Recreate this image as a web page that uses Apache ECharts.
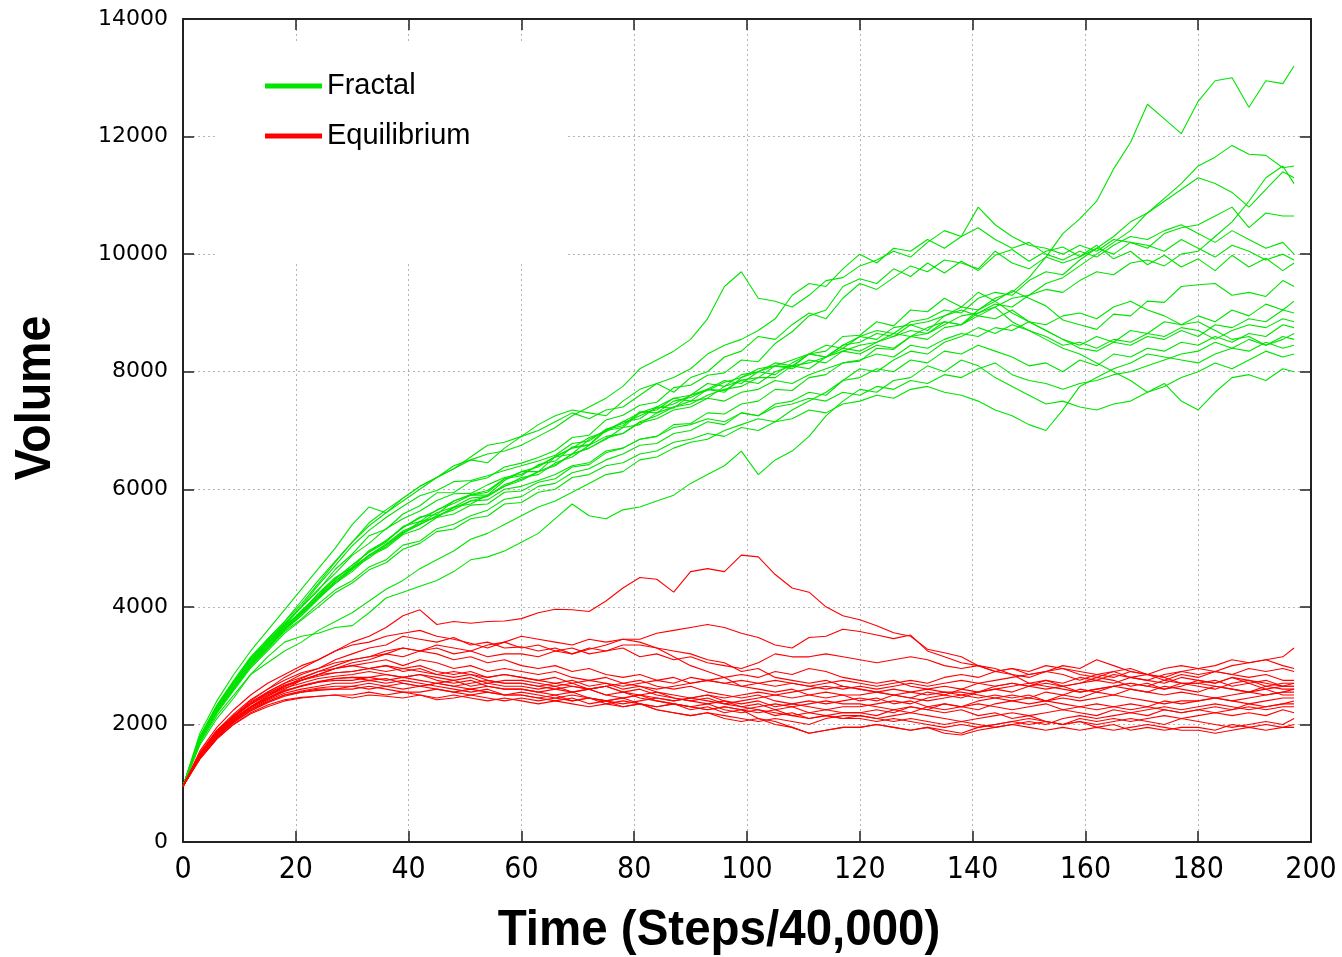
<!DOCTYPE html>
<html><head><meta charset="utf-8">
<script src="https://cdn.jsdelivr.net/npm/echarts@6.0.0/dist/echarts.min.js"></script>
<style>html,body{margin:0;padding:0;background:#fff}#chart{width:1342px;height:957px}</style>
</head><body><div id="chart"></div>
<script>
// Time steps (Steps/40,000) at which each run is sampled
const steps = [0,3,6,9,12,15,18,21,24,27,30,33,36,39,42,45,48,51,54,57,60,63,66,69,72,75,78,81,84,87,90,93,96,99,102,105,108,111,114,117,120,123,126,129,132,135,138,141,144,147,150,153,156,159,162,165,168,171,174,177,180,183,186,189,192,195,197];

// Fractal runs (green)
const fractal01 = [950,1780,2300,2700,3120,3400,3700,4005,4300,4570,4875,5080,5330,5500,5630,5810,5925,5930,6075,6200,6255,6400,6550,6600,6850,7000,7050,7300,7400,7380,7600,7700,7650,7900,8000,7950,8150,8300,8250,8450,8600,8550,8750,8800,8700,8950,9100,9050,9250,9350,9600,9950,10350,10600,10900,11450,11900,12550,12300,12050,12600,12950,13000,12500,12950,12900,13200];
const fractal02 = [950,1760,2280,2680,3080,3380,3680,3900,4230,4500,4670,4960,5120,5350,5530,5570,5800,5900,5900,6150,6300,6300,6550,6700,6750,7000,7150,7200,7400,7550,7500,7700,7850,7800,8000,8150,8100,8300,8450,8400,8600,8700,8650,8850,8900,9050,9000,9250,9350,9300,9550,9700,9650,9900,10100,10300,10550,10700,10950,11200,11500,11650,11850,11700,11680,11470,11500];
const fractal03 = [950,1740,2250,2640,3020,3330,3620,3880,4170,4400,4650,4830,5050,5270,5400,5540,5680,5800,5880,6050,6150,6300,6400,6600,6700,6850,7050,7100,7300,7400,7450,7600,7700,7750,7900,7900,8100,8150,8250,8350,8450,8500,8600,8700,8650,8800,8950,9000,9100,9250,9300,9500,9600,9800,10000,10200,10400,10700,10900,11100,11300,11200,11050,10800,11100,11400,11300];
const fractal04 = [950,1720,2220,2620,3000,3300,3600,3850,4150,4400,4630,4880,5020,5250,5450,5520,5700,5750,5900,6050,6200,6250,6450,6550,6750,6900,6950,7150,7250,7400,7500,7550,7750,7850,7800,8000,8100,8050,8250,8400,8350,8500,8650,8600,8750,8850,8800,9000,9150,9100,9300,9400,9350,9550,9700,9650,9850,9900,9800,10000,10050,10300,10550,10900,11300,11500,11200];
const fractal05 = [950,1800,2330,2750,3150,3450,3750,4100,4450,4780,5100,5430,5650,5850,6050,6200,6350,6500,6600,6650,6750,6900,7050,7250,7400,7550,7750,8050,8200,8350,8550,8900,9450,9700,9250,9200,9100,9300,9550,9600,9800,9900,10050,9950,10200,10400,10300,10800,10500,10300,10150,10100,10000,10150,10050,10250,10200,10100,10350,10450,10500,10650,10800,10450,10700,10650,10650];
const fractal06 = [950,1790,2320,2730,3130,3450,3750,4050,4400,4760,5100,5380,5600,5850,6050,6200,6350,6550,6750,6800,6900,7000,7150,7300,7200,7350,7400,7600,7800,7900,8050,8300,8450,8550,8700,8900,9300,9500,9450,9750,10000,9850,10100,10050,10250,10100,10300,10450,10250,10100,10200,10000,9900,10050,9950,10150,10300,10250,10400,10500,10350,10200,10400,10250,10100,10200,10000];
const fractal07 = [950,1770,2290,2720,3080,3420,3680,3995,4280,4640,4895,5210,5320,5580,5720,5940,5945,6130,6195,6380,6445,6540,6660,6880,6920,7180,7260,7430,7480,7730,7770,7940,7980,8200,8170,8480,8680,8950,9050,9450,9580,9500,9750,9620,9850,9680,9880,9720,9980,10080,9880,10050,10120,9960,10150,9920,10050,9820,9980,9780,9920,9720,9980,9780,9930,9720,9850];
const fractal08 = [950,1750,2260,2680,3040,3380,3640,3940,4190,4480,4710,4930,5100,5370,5450,5650,5760,5900,5950,6180,6230,6420,6480,6720,6760,7020,7080,7320,7300,7500,7560,7700,7680,7860,7900,8100,8080,8300,8350,8600,8620,8850,8780,9050,9020,9250,9100,9350,9200,9380,9250,9120,8880,8800,8720,8980,8950,9200,9180,9450,9480,9500,9300,9350,9280,9550,9450];
const fractal09 = [950,1730,2230,2620,3020,3300,3620,3850,4130,4400,4600,4860,5000,5230,5330,5520,5580,5730,5750,5950,5970,6120,6180,6380,6420,6620,6700,6850,6900,7100,7120,7300,7280,7450,7500,7700,7680,7900,7950,8150,8180,8400,8380,8600,8650,8850,8800,9050,9200,9000,8850,8700,8550,8450,8600,8500,8700,8650,8850,8800,8950,8850,9050,8950,9150,9050,9200];
const fractal10 = [950,1760,2270,2690,3070,3370,3670,3920,4220,4470,4710,4940,5130,5350,5510,5640,5800,5910,5980,6180,6300,6380,6560,6700,6880,6980,7150,7300,7350,7550,7600,7800,7750,7950,8000,8100,8050,8200,8150,8350,8300,8450,8400,8600,8550,8750,8800,8950,8900,9050,8850,8700,8550,8400,8350,8500,8450,8600,8550,8700,8600,8800,8750,8900,8850,9050,9000];
const fractal11 = [950,1720,2200,2600,2980,3280,3580,3795,4050,4290,4445,4680,4800,5050,5120,5330,5405,5550,5645,5830,5875,6050,6100,6280,6350,6500,6600,6750,6780,6950,7000,7150,7100,7300,7250,7450,7500,7650,7600,7850,7900,8050,8000,8200,8150,8350,8300,8450,8350,8250,8100,8150,8000,8200,8100,8300,8250,8400,8350,8500,8450,8600,8500,8650,8600,8800,8750];
const fractal12 = [950,1740,2240,2650,3030,3330,3630,3880,4150,4430,4650,4880,5050,5250,5400,5550,5650,5800,5820,6000,6050,6150,6250,6400,6450,6650,6700,6850,6900,7050,7100,7200,7150,7300,7250,7400,7450,7550,7500,7650,7600,7750,7700,7850,7800,7950,7900,8050,8150,7950,7850,7800,7700,7800,7850,7950,8000,8100,8200,8300,8350,8500,8400,8550,8450,8600,8550];
const fractal13 = [950,1710,2190,2580,2960,3250,3550,3775,4000,4240,4405,4630,4750,4980,5080,5280,5325,5500,5545,5750,5775,5950,6000,6200,6250,6400,6450,6600,6650,6800,6850,6950,6900,7050,7000,7150,7200,7350,7300,7450,7500,7600,7550,7700,7750,7650,7600,7500,7350,7250,7100,7000,7350,7750,7900,8050,8150,8300,8250,8200,8150,8300,8400,8350,8500,8400,8450];
const fractal14 = [950,1770,2300,2710,3110,3420,3720,4010,4370,4700,5040,5300,5520,5710,5890,5980,6130,6150,6230,6320,6400,6480,6580,6780,6820,7020,7120,7250,7380,7450,7600,7680,7820,7900,8050,8100,8200,8300,8250,8450,8500,8650,8600,8800,8850,8950,9050,8950,9100,8850,8700,8550,8400,8300,8150,8000,7850,7650,7750,7900,8000,8150,8050,8200,8350,8250,8300];
const fractal15 = [950,1650,2100,2450,2850,3150,3400,3500,3550,3650,3680,3900,4150,4250,4350,4450,4600,4800,4850,4950,5100,5250,5500,5750,5550,5500,5650,5700,5800,5900,6100,6250,6400,6650,6250,6500,6650,6900,7250,7500,7700,7650,7850,7900,8100,8000,8200,8100,7900,7750,7600,7450,7500,7400,7350,7450,7500,7650,7800,7500,7350,7650,7900,7950,7850,8050,8000];
const fractal16 = [950,1680,2150,2500,2850,3050,3250,3400,3600,3750,3900,4100,4300,4450,4650,4800,4950,5150,5250,5400,5550,5700,5800,5950,6100,6250,6300,6500,6550,6700,6800,6850,7000,7100,7200,7150,7350,7500,7650,7850,8050,8000,8200,8350,8300,8500,8600,8750,8650,8800,8700,8600,8450,8500,8400,8550,8500,8650,8600,8750,8700,8550,8700,8800,8750,8900,8850];
const fractal17 = [950,1850,2400,2850,3250,3600,3950,4300,4650,5000,5400,5700,5600,5800,6000,6200,6400,6500,6450,6700,6900,7100,7250,7350,7300,7250,7500,7700,7800,7650,7900,8000,8250,8350,8600,8550,8800,9000,8900,9250,9500,9400,9600,9800,9700,9900,9850,9750,10050,9850,9750,9950,9850,9950,10100,10000,10200,10150,10050,10250,10100,9950,10150,10050,9900,10000,9900];
const fractal18 = [950,1740,2230,2640,3040,3360,3640,3900,4180,4440,4670,4880,5070,5290,5420,5600,5700,5850,5880,6080,6170,6300,6420,6600,6700,6870,6950,7130,7200,7350,7400,7550,7500,7650,7700,7850,7800,7950,8050,8150,8200,8300,8250,8450,8400,8550,8650,8600,8750,8700,8850,8800,8950,9000,8900,9100,9200,9050,8950,8800,8850,8700,8550,8600,8450,8550,8650];

// Equilibrium runs (red)
const equilibrium01 = [950,1550,1950,2250,2500,2700,2850,3000,3100,3250,3400,3500,3650,3850,3950,3700,3750,3720,3750,3760,3800,3900,3960,3950,3920,4100,4320,4500,4470,4250,4600,4650,4600,4880,4850,4550,4320,4250,4000,3850,3780,3680,3560,3500,3280,3220,3150,3000,2900,2850,2700,2750,2650,2700,2800,2750,2650,2700,2600,2650,2750,2700,2800,2700,2750,2650,2700];
const equilibrium02 = [950,1500,1900,2150,2350,2550,2700,2850,2950,3100,3200,3300,3350,3500,3450,3400,3480,3350,3400,3300,3320,3250,3300,3200,3280,3350,3450,3450,3550,3600,3650,3700,3650,3550,3480,3350,3300,3480,3500,3620,3580,3520,3460,3520,3250,3150,3050,3000,2950,2850,2800,2900,2850,2750,2850,2800,2900,2850,2750,2850,2800,2900,2850,2950,2900,2950,2900];
const equilibrium03 = [950,1500,1850,2100,2300,2450,2600,2750,2850,2950,3050,3100,3200,3300,3250,3350,3300,3250,3350,3400,3300,3350,3250,3300,3200,3250,3300,3150,3200,3100,3150,3050,3000,2950,3050,3200,3150,3150,3200,3150,3100,3050,3100,3150,3100,3000,2950,3000,2900,2950,2850,2900,2950,2850,2800,2900,2950,2850,2950,3000,2950,3000,3100,3050,3100,3150,3300];
const equilibrium04 = [950,1480,1850,2150,2400,2600,2800,2950,3100,3250,3350,3400,3500,3550,3600,3500,3450,3380,3300,3400,3500,3450,3400,3350,3450,3400,3450,3400,3300,3150,3000,2900,2800,2650,2600,2550,2600,2500,2450,2500,2400,2450,2350,2400,2300,2350,2300,2250,2350,2400,2450,2400,2500,2450,2550,2500,2600,2550,2650,2600,2550,2650,2600,2550,2650,2600,2600];
const equilibrium05 = [950,1460,1820,2080,2300,2480,2650,2780,2900,3000,3100,3150,3250,3300,3250,3300,3200,3250,3150,3200,3200,3150,3250,3200,3300,3250,3350,3350,3300,3250,3200,3100,3050,2900,2950,2800,2750,2700,2750,2650,2600,2550,2500,2450,2400,2450,2500,2550,2600,2550,2650,2700,2650,2700,2750,2700,2800,2750,2850,2900,2850,2900,2850,2800,2850,2750,2750];
const equilibrium06 = [950,1520,1900,2180,2420,2600,2750,2880,2950,3050,3100,3150,3200,3150,3250,3200,3100,3150,3050,3100,3000,2950,3000,2900,2950,2850,2800,2850,2750,2800,2700,2750,2700,2650,2700,2750,2700,2650,2700,2750,2700,2650,2700,2750,2700,2800,2850,2800,2900,2950,2900,3000,2950,2900,2850,2900,2800,2850,2800,2900,2950,2900,3000,3050,3100,3000,2950];
const equilibrium07 = [950,1500,1880,2150,2380,2550,2700,2800,2900,2950,3000,3050,3100,3000,3100,3050,2950,3000,2900,2950,2900,2850,2900,2800,2750,2800,2700,2750,2650,2600,2650,2550,2500,2450,2500,2400,2350,2400,2350,2400,2450,2400,2500,2450,2550,2500,2600,2550,2650,2700,2650,2750,2700,2800,2750,2850,2800,2750,2700,2800,2750,2700,2800,2750,2650,2700,2700];
const equilibrium08 = [950,1480,1860,2130,2350,2520,2650,2750,2850,2880,2900,2950,3000,2950,3000,2900,2850,2900,2800,2850,2800,2750,2700,2750,2650,2700,2600,2650,2550,2500,2450,2500,2400,2350,2400,2300,2350,2300,2250,2300,2300,2350,2400,2350,2450,2500,2450,2550,2600,2650,2700,2650,2600,2550,2600,2650,2700,2650,2600,2700,2700,2750,2650,2700,2600,2650,2650];
const equilibrium09 = [950,1470,1840,2100,2300,2480,2620,2700,2780,2820,2850,2900,2850,2800,2850,2800,2750,2800,2700,2750,2750,2700,2650,2700,2600,2650,2550,2500,2550,2450,2400,2450,2350,2300,2250,2200,2150,2100,2150,2200,2200,2250,2200,2300,2250,2350,2300,2400,2450,2500,2450,2550,2500,2600,2550,2650,2600,2550,2500,2550,2500,2450,2500,2550,2500,2550,2600];
const equilibrium10 = [950,1460,1830,2090,2290,2450,2580,2650,2720,2780,2800,2750,2780,2700,2650,2700,2650,2600,2650,2600,2600,2550,2600,2650,2600,2650,2700,2650,2600,2650,2700,2750,2700,2750,2700,2650,2700,2650,2600,2650,2600,2550,2600,2550,2500,2550,2500,2450,2500,2450,2500,2400,2450,2400,2450,2500,2450,2400,2350,2400,2400,2450,2400,2450,2500,2550,2550];
const equilibrium11 = [950,1440,1800,2060,2260,2410,2530,2600,2650,2700,2700,2750,2700,2750,2700,2650,2600,2550,2600,2500,2500,2450,2500,2400,2450,2400,2350,2400,2450,2400,2450,2500,2450,2500,2550,2500,2550,2600,2650,2600,2650,2600,2650,2700,2650,2700,2750,2700,2650,2700,2650,2600,2650,2550,2600,2650,2700,2650,2750,2700,2700,2650,2600,2550,2600,2500,2500];
const equilibrium12 = [950,1430,1780,2040,2230,2380,2500,2550,2600,2600,2650,2600,2650,2700,2650,2700,2650,2700,2750,2700,2700,2650,2700,2650,2600,2650,2550,2600,2500,2450,2400,2350,2400,2300,2350,2250,2300,2200,2250,2200,2200,2150,2250,2200,2300,2250,2300,2350,2300,2250,2300,2350,2250,2300,2250,2300,2350,2300,2400,2350,2400,2450,2400,2350,2400,2450,2450];
const equilibrium13 = [950,1420,1760,2010,2200,2330,2420,2460,2480,2500,2450,2500,2480,2450,2500,2420,2450,2500,2450,2400,2450,2400,2450,2500,2450,2400,2450,2500,2450,2400,2450,2400,2350,2400,2450,2500,2450,2500,2550,2500,2500,2550,2500,2550,2600,2550,2550,2500,2450,2400,2350,2400,2350,2300,2350,2300,2250,2300,2250,2200,2250,2300,2250,2350,2300,2350,2400];
const equilibrium14 = [950,1410,1750,2000,2180,2300,2400,2450,2480,2500,2500,2550,2500,2550,2550,2600,2550,2500,2550,2500,2500,2450,2400,2450,2350,2400,2300,2350,2250,2200,2150,2200,2150,2100,2050,2100,2050,2000,2100,2150,2150,2100,2150,2200,2150,2100,2050,2100,2150,2200,2150,2200,2250,2200,2150,2250,2200,2250,2300,2250,2300,2350,2300,2250,2300,2350,2350];
const equilibrium15 = [950,1450,1800,2070,2280,2430,2560,2650,2720,2750,2750,2800,2850,2800,2850,2750,2700,2750,2650,2600,2600,2550,2500,2550,2450,2400,2450,2350,2300,2350,2250,2300,2200,2250,2100,2050,1950,1850,1900,1950,1950,2000,1950,1900,1950,1850,1820,1900,1950,2000,2050,2000,2100,2150,2100,2150,2200,2150,2250,2200,2250,2200,2250,2300,2250,2300,2300];
const equilibrium16 = [950,1480,1850,2120,2340,2500,2640,2750,2820,2880,2900,2950,2900,2950,2900,2850,2800,2850,2750,2700,2700,2650,2600,2550,2600,2500,2450,2500,2400,2350,2300,2350,2250,2200,2250,2150,2200,2100,2150,2100,2100,2050,2100,2050,2000,1950,2000,1950,2000,2050,2000,2050,2000,2100,2050,2100,2050,2100,2150,2100,2150,2200,2150,2200,2150,2250,2200];
const equilibrium17 = [950,1440,1790,2050,2250,2390,2500,2570,2620,2650,2650,2700,2650,2600,2650,2600,2550,2600,2550,2500,2550,2500,2450,2400,2450,2350,2300,2350,2250,2200,2150,2200,2100,2050,2100,2000,1950,1850,1900,1950,1950,2000,1950,1900,1950,1900,1850,1950,2000,2050,2100,2050,2000,2050,2000,2050,2100,2050,2000,2100,2050,2000,1950,2000,2050,2000,2100];
const equilibrium18 = [950,1460,1820,2080,2290,2440,2570,2660,2730,2780,2800,2800,2750,2800,2750,2700,2750,2650,2700,2650,2650,2600,2650,2550,2600,2500,2550,2450,2400,2350,2300,2250,2300,2250,2200,2250,2150,2200,2150,2100,2150,2100,2050,2100,2050,2000,2050,2000,1950,2000,1950,1900,1950,1900,1950,1900,1950,2000,1950,1900,1900,1850,1900,1950,1900,1950,2000];
const equilibrium19 = [950,1440,1780,2030,2230,2370,2480,2550,2580,2600,2600,2650,2600,2550,2500,2450,2500,2450,2400,2450,2400,2350,2400,2350,2300,2350,2400,2350,2300,2350,2300,2250,2300,2250,2300,2350,2300,2350,2400,2350,2350,2300,2250,2300,2250,2200,2250,2150,2200,2100,2150,2050,2000,2050,1950,2000,1900,1950,1900,1950,1950,1900,2000,1950,2000,1950,1950];
const equilibrium20 = [950,1490,1870,2140,2360,2530,2670,2750,2850,2950,3000,2950,3000,2900,2950,2850,2900,2850,2800,2850,2800,2750,2800,2700,2750,2700,2650,2700,2750,2700,2800,2750,2800,2850,2800,2900,2850,2950,2900,2800,2750,2700,2750,2650,2600,2650,2600,2700,2750,2800,2850,2900,3000,2950,3100,3000,2900,2850,2800,2700,2650,2600,2700,2750,2700,2650,2650];

const fractalRuns = [fractal01,fractal02,fractal03,fractal04,fractal05,fractal06,fractal07,fractal08,fractal09,fractal10,fractal11,fractal12,fractal13,fractal14,fractal15,fractal16,fractal17,fractal18];
const equilibriumRuns = [equilibrium01,equilibrium02,equilibrium03,equilibrium04,equilibrium05,equilibrium06,equilibrium07,equilibrium08,equilibrium09,equilibrium10,equilibrium11,equilibrium12,equilibrium13,equilibrium14,equilibrium15,equilibrium16,equilibrium17,equilibrium18,equilibrium19,equilibrium20];

const legendNames = ['Fractal', 'Equilibrium'];
const xTitle = 'Time (Steps/40,000)';
const yTitle = 'Volume';

const GREEN = '#00e400';
const RED = '#ff0000';
const NARROW = '"Liberation Sans Narrow", "DejaVu Sans Condensed", "Liberation Sans", sans-serif';
const AXIS = '#222';

function toPoints(vals) { return vals.map((v, i) => [steps[i], v]); }

const series = [];
fractalRuns.forEach(r => series.push({
  name: legendNames[0], type: 'line', data: toPoints(r), symbol: 'none', showSymbol: false,
  lineStyle: { width: 1.1, color: GREEN }, itemStyle: { color: GREEN }, silent: true, z: 3
}));
equilibriumRuns.forEach(r => series.push({
  name: legendNames[1], type: 'line', data: toPoints(r), symbol: 'none', showSymbol: false,
  lineStyle: { width: 1.1, color: RED }, itemStyle: { color: RED }, silent: true, z: 3
}));

const tickCommon = { show: true, inside: true, length: 11, lineStyle: { color: AXIS, width: 1.5 } };
const lineCommon = { show: true, onZero: false, lineStyle: { color: AXIS, width: 2 } };
const gridLine = { show: true, lineStyle: { color: '#b4b4b4', type: [2, 3], width: 1 } };

const chart = echarts.init(document.getElementById('chart'), null, { renderer: 'canvas' });
chart.setOption({
  animation: false,
  backgroundColor: '#fff',
  grid: { left: 183, right: 31, top: 19, bottom: 115, containLabel: false },
  xAxis: [
    { type: 'value', min: 0, max: 200, interval: 20, position: 'bottom',
      axisLine: lineCommon, axisTick: tickCommon, splitLine: gridLine,
      axisLabel: { show: true, showMinLabel: true, showMaxLabel: true, fontFamily: NARROW, fontSize: 30, color: '#000', margin: 13,
        formatter: v => String(v) } },
    { type: 'value', min: 0, max: 200, interval: 20, position: 'top',
      axisLine: lineCommon, axisTick: tickCommon, splitLine: { show: false }, axisLabel: { show: false } }
  ],
  yAxis: [
    { type: 'value', min: 0, max: 14000, interval: 2000, position: 'left',
      axisLine: lineCommon, axisTick: tickCommon, splitLine: gridLine,
      axisLabel: { show: true, showMinLabel: true, showMaxLabel: true, fontFamily: '"DejaVu Sans", sans-serif', fontSize: 22, color: '#000', margin: 15,
        formatter: v => String(v) } },
    { type: 'value', min: 0, max: 14000, interval: 2000, position: 'right',
      axisLine: lineCommon, axisTick: tickCommon, splitLine: { show: false }, axisLabel: { show: false } }
  ],
  legend: {
    data: legendNames, orient: 'vertical', left: 260, top: 66,
    icon: 'rect', itemWidth: 57, itemHeight: 5, itemGap: 20,
    textStyle: { fontFamily: '"Liberation Sans", Arial, sans-serif', fontSize: 29, color: '#000', lineHeight: 30 },
    selectedMode: false
  },
  graphic: [
    { type: 'rect', shape: { x: 218, y: 43, width: 350, height: 220 }, style: { fill: '#fff' }, z: 1, silent: true },
    { type: 'text', x: 719, y: 931, scaleX: 0.95, silent: true,
      style: { text: xTitle, fontFamily: '"Liberation Sans", Arial, sans-serif', fontWeight: 'bold', fontSize: 50, fill: '#000', align: 'center', verticalAlign: 'middle' } },
    { type: 'text', x: 36, y: 398, rotation: Math.PI / 2, scaleX: 0.93, silent: true,
      style: { text: yTitle, fontFamily: '"Liberation Sans", Arial, sans-serif', fontWeight: 'bold', fontSize: 50, fill: '#000', align: 'center', verticalAlign: 'middle' } }
  ],
  series: series
});
</script>
</body></html>
